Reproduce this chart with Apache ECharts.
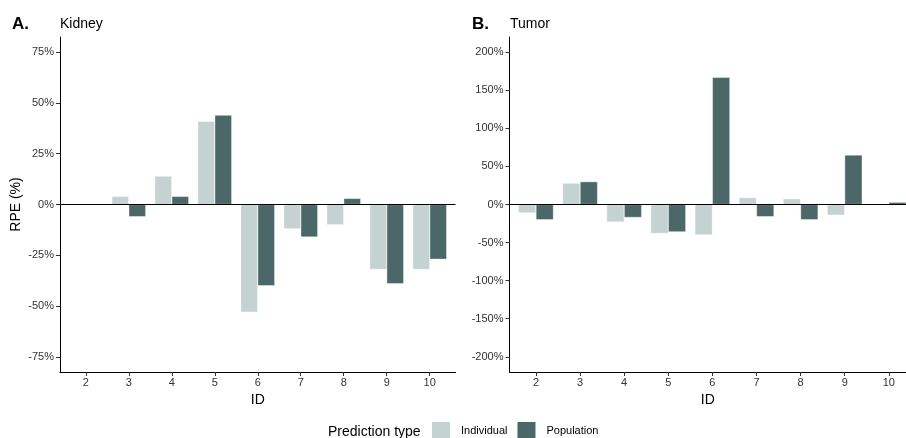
<!DOCTYPE html>
<html>
<head>
<meta charset="UTF-8">
<title>RPE by ID</title>
<script src="https://cdn.jsdelivr.net/npm/echarts@6/dist/echarts.min.js"></script>
<style>
  html, body { margin: 0; padding: 0; background: #fff; }
  #chart { width: 906px; height: 438px; }
</style>
</head>
<body>
<div id="chart"></div>
<script>
    var ids = [2, 3, 4, 5, 6, 7, 8, 9, 10];
    var kidneyIndividual = [null, 4, 14, 41, -53, -12, -10, -32, -32];
    var kidneyPopulation = [null, -6, 4, 44, -40, -16, 3, -39, -27];
    var tumorIndividual = [-11, 28, -23, -38, -40, 9, 7.5, -14, null];
    var tumorPopulation = [-20, 30, -17, -36, 167, -16, -20, 65, 3];
    var kidneyTicks = [-75, -50, -25, 0, 25, 50, 75];
    var tumorTicks = [-200, -150, -100, -50, 0, 50, 100, 150, 200];

    var lightCol = '#c4d2d2';
    var darkCol = '#4b6767';
    var font = 'Liberation Sans, Arial, sans-serif';

    function pairs(vals) {
        return ids.map(function (id, i) { return [id, vals[i]]; });
    }

    function xAxisFor(gi, maxV) {
        return {
            type: 'value', gridIndex: gi, min: 1.4, max: maxV,
            name: 'ID', nameLocation: 'middle', nameGap: 20,
            nameTextStyle: { fontFamily: font, fontSize: 14, color: '#000' },
            axisLine: { onZero: false, lineStyle: { color: '#000', width: 1 } },
            axisTick: { customValues: ids, length: 4, lineStyle: { color: '#333' } },
            axisLabel: { customValues: ids, fontFamily: font, fontSize: 11, color: '#333', margin: 5 },
            splitLine: { show: false }
        };
    }

    function yAxisFor(gi, lim, ticks, name) {
        return {
            type: 'value', gridIndex: gi, min: -lim, max: lim,
            name: name, nameLocation: 'middle', nameGap: 37, nameRotate: 90,
            nameTextStyle: { fontFamily: font, fontSize: 14, color: '#000' },
            axisLine: { show: true, onZero: false, lineStyle: { color: '#000', width: 1 } },
            axisTick: { show: true, customValues: ticks, length: 4, lineStyle: { color: '#333' } },
            axisLabel: {
                customValues: ticks, fontFamily: font, fontSize: 11, color: '#333', margin: 6,
                formatter: function (v) { return v + '%'; }
            },
            splitLine: { show: false }
        };
    }

    var zeroLine = {
        silent: true, symbol: 'none', label: { show: false },
        lineStyle: { color: '#000', width: 1, type: 'solid' },
        emphasis: { disabled: true },
        data: [{ yAxis: 0 }]
    };

    function barSeries(name, gi, vals, col, w, withLine) {
        var s = {
            name: name, type: 'bar', xAxisIndex: gi, yAxisIndex: gi,
            data: pairs(vals), barWidth: w, barGap: '0%',
            itemStyle: { color: col, borderColor: '#fff', borderWidth: 0.4 },
            z: 2
        };
        if (withLine) s.markLine = zeroLine;
        return s;
    }

    function label(text, left, top, size, bold) {
        return {
            text: text, left: left, top: top, padding: 0,
            textStyle: { fontFamily: font, fontSize: size, fontWeight: bold ? 'bold' : 'normal', color: '#000' }
        };
    }

    var chart = echarts.init(document.getElementById('chart'));
    chart.setOption({
        animation: false,
        textStyle: { fontFamily: font },
        title: [
            label('A.', 12, 16, 17, true),
            label('Kidney', 60, 17, 14, false),
            label('B.', 472, 16, 17, true),
            label('Tumor', 510, 17, 14, false),
            label('Prediction type', 328, 425, 14, false)
        ],
        legend: {
            left: 430, top: 420, padding: 0, itemWidth: 20, itemHeight: 20, itemGap: 8,
            icon: 'rect',
            data: ['Individual', 'Population'],
            textStyle: { fontFamily: font, fontSize: 11, color: '#000', padding: [0, 0, 0, 5] }
        },
        grid: [
            { left: 60, right: 450.5, top: 37, bottom: 66 },
            { left: 509.5, right: 0, top: 37, bottom: 66 }
        ],
        xAxis: [xAxisFor(0, 10.6), xAxisFor(1, 10.39)],
        yAxis: [yAxisFor(0, 82.5, kidneyTicks, 'RPE (%)'), yAxisFor(1, 220, tumorTicks, '')],
        series: [
            barSeries('Individual', 0, kidneyIndividual, lightCol, 17, true),
            barSeries('Population', 0, kidneyPopulation, darkCol, 17, false),
            barSeries('Individual', 1, tumorIndividual, lightCol, 17.5, true),
            barSeries('Population', 1, tumorPopulation, darkCol, 17.5, false)
        ]
    });
</script>
</body>
</html>
